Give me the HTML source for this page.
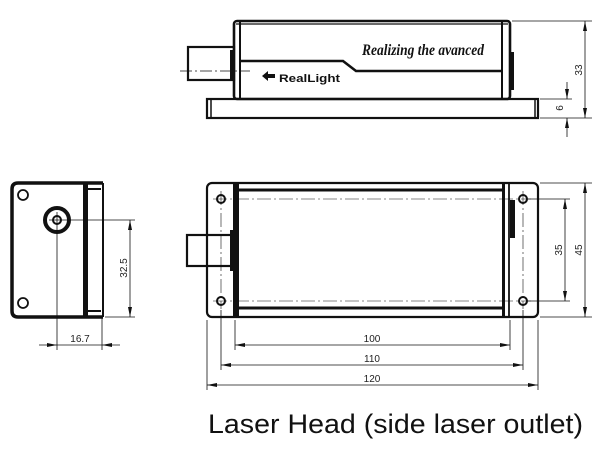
<!DOCTYPE html>
<html><head><meta charset="utf-8"><style>
html,body{margin:0;padding:0;background:#fff;}
svg{display:block;}
text{font-family:"Liberation Sans",Arial,sans-serif;}
text.scr{font-family:"Liberation Serif",serif;font-style:italic;font-weight:bold;}
</style></head><body>
<svg width="610" height="453" viewBox="0 0 610 453" xmlns="http://www.w3.org/2000/svg">
<defs>
<marker id="a" viewBox="0 0 10 4" refX="10" refY="2" markerWidth="10" markerHeight="4" markerUnits="userSpaceOnUse" orient="auto-start-reverse"><path d="M0,0 L10,2 L0,4z" fill="#111"/></marker>
</defs>
<g fill="none" stroke="#111">
<!-- TOP VIEW -->
<rect x="188" y="47" width="46" height="33" stroke-width="2.2"/>
<line x1="180" y1="71" x2="250" y2="71" stroke-width="0.7" stroke-dasharray="12,3,2,3"/>
<path d="M230,50 h4 v30 h-4z" fill="#111" stroke="none"/>
<path d="M510,52 h4 v38 h-4z" fill="#111" stroke="none"/>
<rect x="234" y="21" width="276" height="78" rx="3" stroke-width="2.6"/>
<line x1="240" y1="22" x2="240" y2="99" stroke-width="2"/>
<line x1="502" y1="22" x2="502" y2="99" stroke-width="2"/>
<line x1="236" y1="24" x2="508" y2="24" stroke-width="1.2"/>
<polyline points="240,61 343,61 356,71 502,71" stroke-width="2.6"/>
<rect x="207" y="99" width="331" height="19" stroke-width="2.2"/>
<line x1="211" y1="99" x2="211" y2="118" stroke-width="1.5"/>
<line x1="535" y1="99" x2="535" y2="118" stroke-width="1.5"/>
<g stroke-width="0.8">
<line x1="512" y1="21" x2="592" y2="21"/>
<line x1="540" y1="118" x2="592" y2="118"/>
<line x1="540" y1="99" x2="572" y2="99"/>
<line x1="585" y1="21" x2="585" y2="118" marker-start="url(#a)" marker-end="url(#a)"/>
<line x1="567" y1="82" x2="567" y2="99" marker-end="url(#a)"/>
<line x1="567" y1="137" x2="567" y2="118" marker-end="url(#a)"/>
</g>
<!-- SIDE VIEW -->
<path d="M103,183 H18 Q12,183 12,189 V311 Q12,317 18,317 H103" stroke-width="3.5"/>
<line x1="103" y1="183" x2="103" y2="317" stroke-width="2"/>
<rect x="83" y="183" width="5" height="134" fill="#111" stroke="none"/>
<line x1="88" y1="189" x2="101" y2="189" stroke-width="2"/>
<line x1="88" y1="311" x2="101" y2="311" stroke-width="2"/>
<circle cx="23" cy="195" r="5" stroke-width="1.8"/>
<circle cx="23" cy="303" r="5" stroke-width="1.8"/>
<circle cx="57" cy="220" r="12" stroke-width="4"/>
<circle cx="57" cy="220" r="4" stroke-width="2"/>
<g stroke-width="0.8">
<line x1="57" y1="212" x2="57" y2="350"/>
<line x1="49" y1="220" x2="135" y2="220"/>
<line x1="105" y1="317" x2="135" y2="317"/>
<line x1="102" y1="317" x2="102" y2="350"/>
<line x1="130" y1="220" x2="130" y2="317" marker-start="url(#a)" marker-end="url(#a)"/>
<line x1="39" y1="345" x2="57" y2="345" marker-end="url(#a)"/>
<line x1="120" y1="345" x2="102" y2="345" marker-end="url(#a)"/>
<line x1="57" y1="345" x2="102" y2="345"/>
</g>
<!-- BOTTOM VIEW -->
<rect x="187" y="235" width="46" height="31" stroke-width="2.2"/>
<path d="M230,230 h4 v41 h-4z" fill="#111" stroke="none"/>
<path d="M510,200 h5 v38 h-5z" fill="#111" stroke="none"/>
<rect x="207" y="183" width="331" height="134" rx="5" stroke-width="2.2"/>
<rect x="233" y="183" width="6" height="134" fill="#111" stroke="none"/>
<rect x="502" y="183" width="3" height="134" fill="#111" stroke="none"/>
<line x1="509" y1="183" x2="509" y2="317" stroke-width="1.8"/>
<line x1="239" y1="190" x2="502" y2="190" stroke-width="3"/>
<line x1="239" y1="308" x2="502" y2="308" stroke-width="3"/>
<g stroke-width="0.6" stroke-dasharray="14,3,2,3">
<line x1="213" y1="199" x2="531" y2="199"/>
<line x1="213" y1="301" x2="531" y2="301"/>
<line x1="221" y1="191" x2="221" y2="309"/>
<line x1="523" y1="191" x2="523" y2="309"/>
</g>
<g stroke-width="2"><circle cx="221" cy="199" r="4"/><circle cx="523" cy="199" r="4"/><circle cx="221" cy="301" r="4"/><circle cx="523" cy="301" r="4"/></g>
<g stroke-width="0.8">
<line x1="540" y1="183" x2="592" y2="183"/>
<line x1="540" y1="317" x2="592" y2="317"/>
<line x1="527" y1="199" x2="570" y2="199"/>
<line x1="527" y1="301" x2="570" y2="301"/>
<line x1="585" y1="183" x2="585" y2="317" marker-start="url(#a)" marker-end="url(#a)"/>
<line x1="565" y1="199" x2="565" y2="301" marker-start="url(#a)" marker-end="url(#a)"/>
<line x1="235" y1="320" x2="235" y2="350"/>
<line x1="510" y1="320" x2="510" y2="350"/>
<line x1="221" y1="310" x2="221" y2="370"/>
<line x1="523" y1="310" x2="523" y2="370"/>
<line x1="207" y1="320" x2="207" y2="390"/>
<line x1="538" y1="320" x2="538" y2="390"/>
<line x1="235" y1="345" x2="510" y2="345" marker-start="url(#a)" marker-end="url(#a)"/>
<line x1="221" y1="365" x2="523" y2="365" marker-start="url(#a)" marker-end="url(#a)"/>
<line x1="207" y1="385" x2="538" y2="385" marker-start="url(#a)" marker-end="url(#a)"/>
</g>
</g>
<text class="scr" x="362" y="55" font-size="16" fill="#111" textLength="122" lengthAdjust="spacingAndGlyphs">Realizing the avanced</text>
<path d="M262,76 l6,-5 v3 h7 v4 h-7 v3z" fill="#111"/>
<text x="279" y="82" font-weight="bold" font-size="11" fill="#111" textLength="61" lengthAdjust="spacingAndGlyphs">RealLight</text>
<g font-size="10" fill="#222" text-anchor="middle">
<text transform="translate(582,70) rotate(-90)">33</text>
<text transform="translate(563,108) rotate(-90)">6</text>
<text transform="translate(127,268) rotate(-90)">32.5</text>
<text x="80" y="342">16.7</text>
<text transform="translate(562,250) rotate(-90)">35</text>
<text transform="translate(582,250) rotate(-90)">45</text>
<text x="372" y="342">100</text>
<text x="372" y="362">110</text>
<text x="372" y="382">120</text>
</g>
<text x="208" y="433" font-size="27" fill="#111" textLength="375" lengthAdjust="spacingAndGlyphs">Laser Head (side laser outlet)</text>
</svg>
</body></html>
